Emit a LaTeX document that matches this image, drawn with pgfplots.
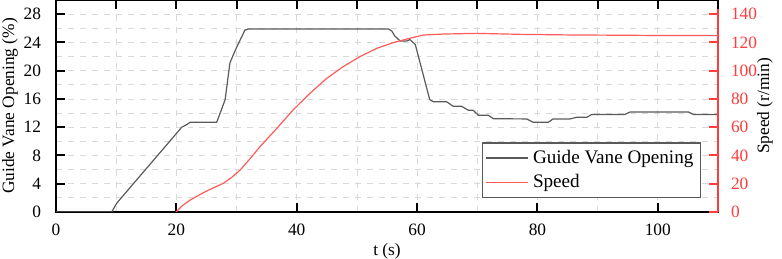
\documentclass[border=0pt]{standalone}
\usepackage{fontspec}
\setmainfont{Liberation Serif}
\usepackage{pgfplots}
\pgfplotsset{compat=1.18}
\definecolor{gv}{HTML}{5A5A5A}
\definecolor{spd}{HTML}{FF5A5A}
\definecolor{rax}{HTML}{FF3B3B}
\definecolor{gridc}{HTML}{D9D9D9}
\pgfplotsset{every axis/.append style={
 width=331bp,height=106bp,scale only axis,
 xmin=0,xmax=110,
 font=\fontsize{8.7}{10}\selectfont,
 /pgf/number format/assume math mode=true,
 tick align=inside,major tick length=4.5bp,minor tick length=0pt}}

\begin{document}
\begin{tikzpicture}
\begin{axis}[ymin=0,ymax=30,ytick={0,4,...,28},xtick={0,20,...,100},
 xtick pos=bottom,ytick pos=left,minor x tick num=1,minor y tick num=1,
 grid=both,grid style={gridc,dashed,line width=0.4pt},
 axis line style={black,line width=1pt},tick style={black,line width=1pt},
 yticklabel style={xshift=-4bp},xticklabel style={yshift=-2.5bp},
 xlabel={t (s)},xlabel style={yshift=3bp},
 ylabel={Guide Vane Opening (\%)},
 ylabel style={at={(rel axis cs:0,0.5)},anchor=center,yshift=23bp}]
\coordinate (ll) at (rel axis cs:0,0);
\coordinate (ur) at (rel axis cs:1,1);
\addplot[gv,line width=0.6pt] coordinates {
 (0,0) (9.25,0) (10.1,1.26) (20.9,12.0) (21.7,12.36) (22.3,12.7) (26.7,12.7)
 (27.5,14.5) (28.1,15.9) (28.9,21.1) (29.9,23.1) (31.4,25.75) (32,25.9)
 (55.3,25.9) (55.8,25.6) (56.3,24.9) (57.2,24.2) (58.3,24.2) (58.8,24.4)
 (59.7,23.7) (62.1,15.9) (62.7,15.6) (64.9,15.6) (66.0,14.96) (67.4,14.96)
 (68.5,14.4) (69.3,14.4) (70.2,13.7) (71.8,13.7) (72.7,13.2) (78.2,13.17)
 (79.3,12.7) (81.8,12.7) (82.6,13.17) (85.4,13.17) (86.5,13.4) (88.2,13.4)
 (89.0,13.8) (94.5,13.8) (95.4,14.15) (105.1,14.15) (105.9,13.8) (110,13.8)};
\end{axis}
\begin{axis}[axis x line=none,axis y line*=right,ymin=0,ymax=150,
 ytick={0,20,...,140},
 y axis line style={rax,line width=1pt},ytick style={rax,line width=1pt},
 yticklabel style={rax,xshift=3bp},ylabel={Speed (r/min)},
 ylabel style={at={(rel axis cs:1,0.5)},anchor=center,yshift=-23.5bp},
 legend cell align=left,
 legend style={at={(rel axis cs:1,0)},anchor=south east,xshift=-8.5bp,yshift=7bp,
  draw=gv,line width=0.6pt,font=\fontsize{9.6}{11}\selectfont,inner sep=1.5pt},
 legend image code/.code={\draw[#1] (0cm,0cm) -- (0.75cm,0cm);}]
\addlegendimage{gv,line width=0.6pt}
\addlegendentry{Guide Vane Opening}
\addplot[spd,line width=0.6pt] coordinates {
 (19.95,0) (21,4.5) (22.3,8.5) (24.5,13.7) (26,16.8) (27.8,20.3) (29.2,24.5)
 (30.6,29.7) (32.2,37.5) (33.9,46.2) (36.7,59.2) (39.4,72.2) (42.2,84)
 (45,94.6) (47.7,102.8) (50.5,109.9) (53.3,115.8) (56,119.8) (58.8,122.9)
 (61,125.2) (64.3,125.9) (69.8,126.4) (77.1,125.7) (85,125.3) (100,124.9)
 (110,124.8)};
\addlegendentry{Speed}
\end{axis}
\begin{axis}[axis x line*=top,hide y axis,ymin=0,ymax=1,
 xtick={0,10,...,110},xticklabels={},
 axis line style={black,line width=1pt},tick style={black,line width=1pt}]
\end{axis}
\pgfresetboundingbox
\path ([xshift=-28bp,yshift=-23.5bp]ll) rectangle ([xshift=32bp]ur);
\end{tikzpicture}
\end{document}
